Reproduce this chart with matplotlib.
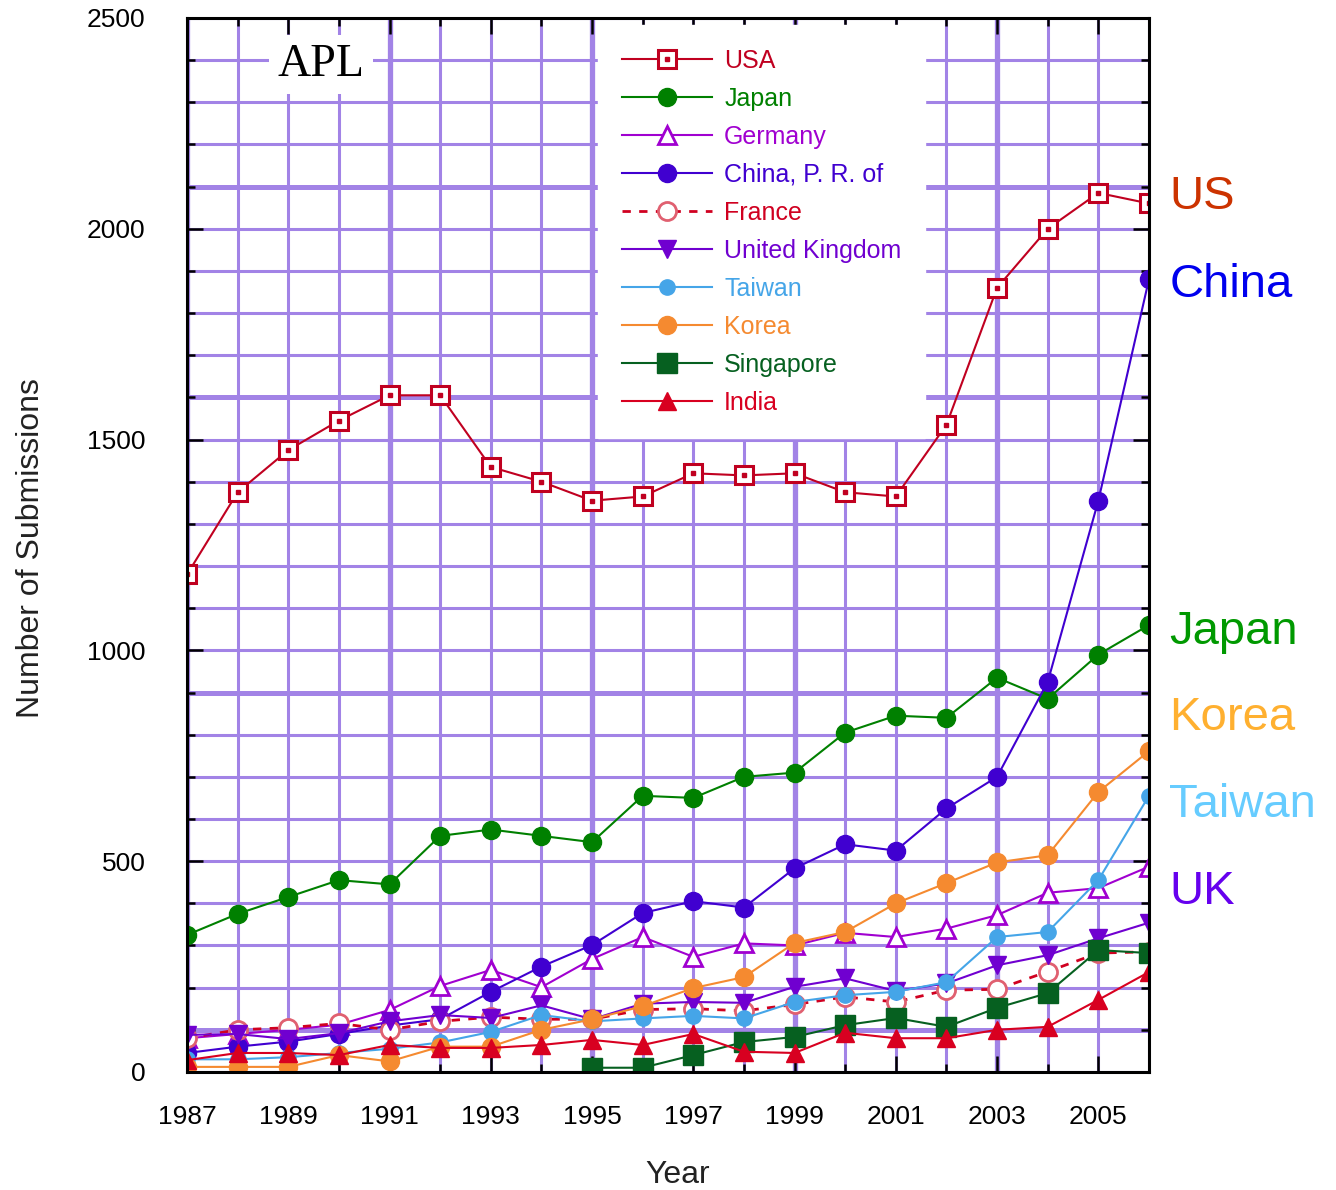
import matplotlib
matplotlib.use('Agg')
import matplotlib.pyplot as plt
import numpy as np

plt.rcParams['font.family'] = ['Liberation Sans', 'DejaVu Sans']

# %% data
years = list(range(1987, 2007))
usa = [1180, 1375, 1475, 1545, 1605, 1605, 1435, 1400, 1355, 1365,
       1420, 1415, 1420, 1375, 1365, 1535, 1860, 2000, 2085, 2060]
japan = [325, 375, 415, 455, 445, 560, 575, 560, 545, 655,
         650, 700, 710, 805, 845, 840, 935, 885, 990, 1060]
germany = [80, 90, 100, 112, 147, 204, 242, 201, 268, 320,
           273, 305, 300, 330, 320, 340, 372, 425, 436, 487]
china = [45, 60, 72, 90, 110, 125, 190, 250, 301, 377,
         405, 390, 483, 540, 525, 625, 700, 925, 1355, 1880]
france = [80, 100, 105, 115, 100, 120, 130, 125, 125, 148,
          150, 145, 160, 178, 166, 194, 196, 238, 282, 285]
uk = [88, 90, 78, 92, 120, 135, 128, 158, 125, 162,
      166, 164, 202, 222, 192, 210, 253, 277, 317, 354]
taiwan = [30, 30, 35, 45, 55, 70, 95, 135, 120, 127,
          133, 127, 166, 182, 190, 213, 320, 332, 455, 655]
korea = [12, 12, 12, 40, 25, 60, 60, 100, 125, 156,
         199, 225, 306, 332, 400, 448, 497, 514, 664, 761]
singapore_years = list(range(1995, 2007))
singapore = [10, 10, 40, 71, 83, 111, 128, 107, 152, 187, 289, 282]
india = [28, 45, 45, 40, 64, 57, 57, 64, 76, 64,
         90, 48, 45, 93, 80, 80, 100, 107, 171, 237]

# side labels: (text, y value, colour)
side_labels = ['US', 'China', 'Japan', 'Korea', 'Taiwan', 'UK']
side_label_y = [2075, 1867, 1044, 840, 633, 427]
side_label_colors = ['#CC3300', '#0000EE', '#009900', '#FFB030', '#66CCFF', '#6600EE']

# %% figure
fig = plt.figure(figsize=(13.36, 11.9), dpi=100)
ax = fig.add_axes([0.140, 0.0992, 0.720, 0.8857])

grid_color = '#A283E6'
ax.set_xlim(1987, 2006)
ax.set_ylim(0, 2500)
ax.set_xticks(range(1987, 2006, 2))
ax.set_xticks(range(1987, 2007), minor=True)
ax.set_yticks(range(0, 2501, 500))
ax.set_yticks(range(0, 2501, 100), minor=True)
ax.grid(which='both', color=grid_color, lw=2.2, zorder=0)
ax.set_axisbelow(True)
# the rasterised original has some heavier grid lines
for yr in [1987, 1991, 1995, 1999, 2003]:
    ax.axvline(yr, color=grid_color, lw=3.8, zorder=0.5)
for v in [100, 900, 1600, 2100]:
    ax.axhline(v, color=grid_color, lw=3.6, zorder=0.5)

ax.tick_params(which='both', direction='in', top=True, right=True, width=1.8, color='black')
ax.tick_params(which='major', length=11.5, labelsize=19)
ax.tick_params(which='minor', length=6)
ax.tick_params(axis='y', pad=30)
ax.tick_params(axis='x', pad=24)
for s in ax.spines.values():
    s.set_linewidth(2.2)
    s.set_zorder(5)

ms = 13
handles = []
l, = ax.plot(years, usa, color='#C00020', lw=1.5, marker='s', ms=ms, mfc='white',
             mec='#C00020', mew=2.2, label='USA', zorder=3)
d, = ax.plot(years, usa, ls='none', marker='s', ms=2.5, color='#C00020', zorder=3.1)
handles.append((l, d))
l, = ax.plot(years, japan, color='#008000', lw=1.5, marker='o', ms=ms, label='Japan', zorder=3)
handles.append(l)
l, = ax.plot(years, germany, color='#A000D0', lw=1.5, marker='^', ms=ms, mfc='white',
             mec='#A000D0', mew=2, label='Germany', zorder=3)
handles.append(l)
l, = ax.plot(years, china, color='#4000D0', lw=1.5, marker='o', ms=ms, label='China, P. R. of', zorder=3)
handles.append(l)
l, = ax.plot(years, france, color='#D00020', lw=2, ls=(0, (3, 3)), marker='o', ms=ms, mfc='white',
             mec='#E06070', mew=2, label='France', zorder=3)
handles.append(l)
l, = ax.plot(years, uk, color='#7000D0', lw=1.5, marker='v', ms=ms, label='United Kingdom', zorder=3)
handles.append(l)
l, = ax.plot(years, taiwan, color='#45A5E8', lw=1.5, marker='o', ms=11, label='Taiwan', zorder=3)
handles.append(l)
l, = ax.plot(years, korea, color='#F58A30', lw=1.5, marker='o', ms=ms, label='Korea', zorder=3)
handles.append(l)
l, = ax.plot(singapore_years, singapore, color='#066020', lw=1.5, marker='s', ms=14,
             label='Singapore', zorder=3)
handles.append(l)
l, = ax.plot(years, india, color='#D80020', lw=1.5, marker='^', ms=ms, label='India', zorder=3)
handles.append(l)

labels = ['USA', 'Japan', 'Germany', 'China, P. R. of', 'France', 'United Kingdom',
          'Taiwan', 'Korea', 'Singapore', 'India']
text_colors = ['#C00020', '#008000', '#A000D0', '#4000D0', '#D00020', '#7000D0',
               '#45A5E8', '#F58A30', '#066020', '#D80020']
leg = ax.legend(handles, labels, loc='upper left', bbox_to_anchor=(0.4272, 0.9934),
                borderaxespad=0, fontsize=18, numpoints=1, handlelength=3.6,
                handletextpad=0.5, labelspacing=0.56, borderpad=0.95,
                frameon=True, fancybox=False, facecolor='white', edgecolor='white',
                framealpha=1)
leg.set_zorder(4)
for t, c in zip(leg.get_texts(), text_colors):
    t.set_color(c)

ax.text(1989.65, 2390, 'APL', fontsize=33, family='Liberation Serif', ha='center', va='center',
        bbox=dict(facecolor='white', edgecolor='none', pad=6), zorder=4)

for txt, yv, c in zip(side_labels, side_label_y, side_label_colors):
    ax.text(2006.4, yv, txt, color=c, fontsize=34, ha='left', va='center', clip_on=False)

fig.text(31 / 1336, 1 - 548 / 1190, 'Number of Submissions', rotation=90,
         ha='center', va='center', fontsize=23, color='#222222')
fig.text(678 / 1336, 1 - 1175 / 1190, 'Year', ha='center', va='center', fontsize=23, color='#222222')

fig.savefig('out.png', dpi=100)
